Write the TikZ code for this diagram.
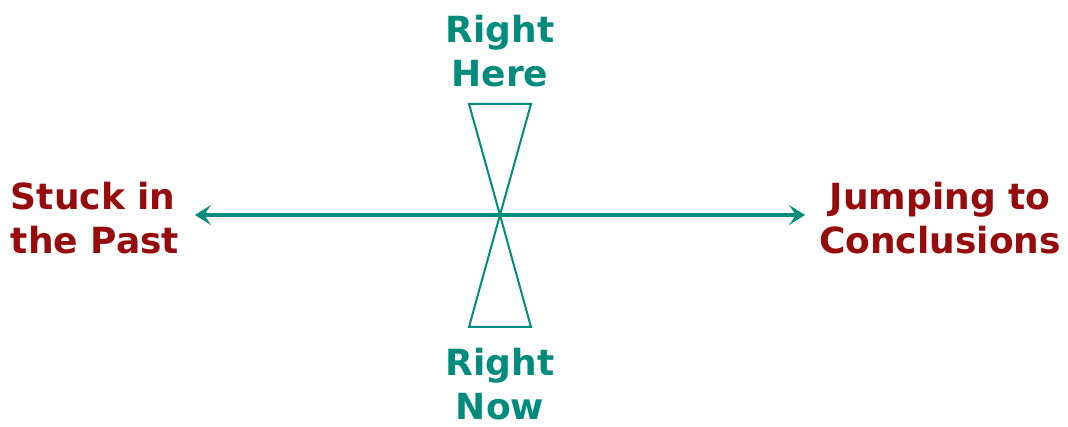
\documentclass[tikz,border=0pt]{standalone}
\usepackage{fontspec}
\setmainfont{DejaVu Sans}
\usetikzlibrary{arrows.meta}
\definecolor{tealc}{RGB}{0,140,125}
\definecolor{redc}{RGB}{150,12,12}
\tikzset{mytip/.tip={Stealth[length=16pt,width=20pt,inset=7pt]}}
\begin{document}
\begin{tikzpicture}[x=1pt,y=-1pt,
  lbl/.style={font=\bfseries\fontsize{36}{44}\selectfont,align=center,inner sep=0pt},
  teallbl/.style={lbl,text=tealc},
  redlbl/.style={lbl,text=redc},
  glass/.style={draw=tealc,line width=2pt,line join=miter}]
\useasboundingbox (0,0) rectangle (1068,427);
\node[teallbl] (here) at (500,51) {Right\\Here};
\node[teallbl] (now) at (500,384) {Right\\Now};
\node[redlbl,align=left] (past) at (95,218) {Stuck in\\the Past};
\node[redlbl] (concl) at (940,218) {Jumping to\\Conclusions};
\coordinate (c) at (500,215);
\coordinate (l) at (195,215);
\coordinate (r) at (805,215);
\coordinate (tl) at (469,104);
\coordinate (tr) at (531,104);
\coordinate (bl) at (469,327);
\coordinate (br) at (531,327);
\draw[glass] (c) -- (tl) -- (tr) -- cycle;
\draw[glass] (c) -- (bl) -- (br) -- cycle;
\draw[tealc,line width=3.5pt,mytip-mytip] (l) -- (r);
\end{tikzpicture}
\end{document}
